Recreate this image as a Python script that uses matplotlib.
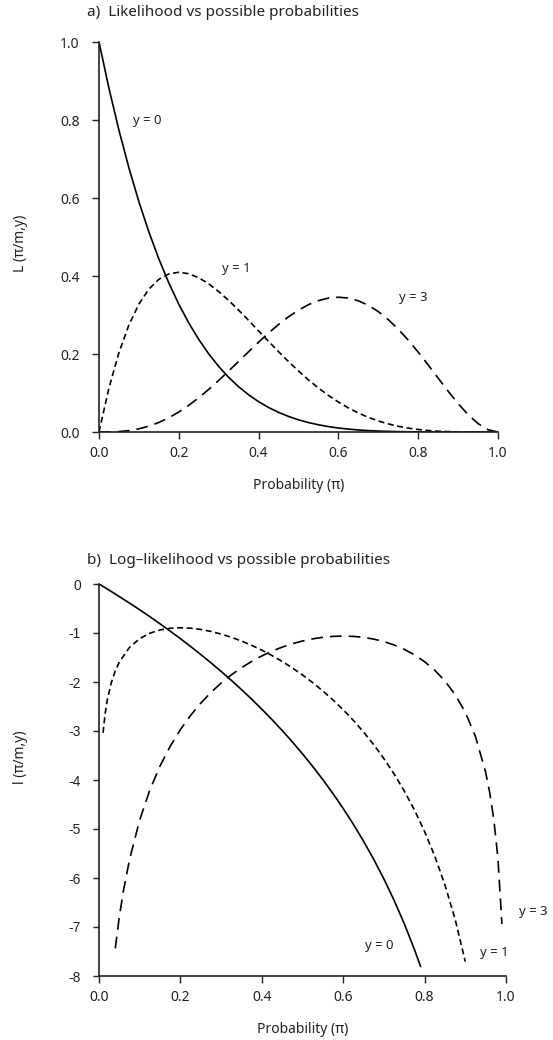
import matplotlib
matplotlib.use("Agg")
import matplotlib.pyplot as plt

plt.rcParams['font.family'] = ['Noto Sans', 'DejaVu Sans']
plt.rcParams['axes.unicode_minus'] = False
plt.rcParams['lines.scale_dashes'] = False

# ---------------- data ----------------
p_top = [0.0, 0.025, 0.05, 0.075, 0.1, 0.125, 0.15, 0.175, 0.2, 0.225, 0.25,
         0.275, 0.3, 0.325, 0.35, 0.375, 0.4, 0.425, 0.45, 0.475, 0.5,
         0.525, 0.55, 0.575, 0.6, 0.625, 0.65, 0.675, 0.7, 0.725, 0.75,
         0.775, 0.8, 0.825, 0.85, 0.875, 0.9, 0.925, 0.95, 0.975, 1.0]

lik_y0 = [1.0, 0.881096, 0.773781, 0.677187, 0.59049, 0.512909, 0.443705,
          0.382181, 0.32768, 0.279581, 0.237305, 0.200305, 0.16807, 0.140126,
          0.116029, 0.095367, 0.07776, 0.062855, 0.050328, 0.039884, 0.03125,
          0.024181, 0.018453, 0.013866, 0.01024, 0.007416, 0.005252, 0.003626,
          0.00243, 0.001573, 0.000977, 0.000577, 0.00032, 0.000164, 0.000076,
          0.000031, 0.00001, 0.000002, 0.0, 0.0, 0.0]

lik_y1 = [0.0, 0.112961, 0.203627, 0.274535, 0.32805, 0.366364, 0.391505,
          0.405344, 0.4096, 0.405844, 0.395508, 0.379888, 0.36015, 0.33734,
          0.312386, 0.286102, 0.2592, 0.23229, 0.205889, 0.180426, 0.15625,
          0.133631, 0.112767, 0.093797, 0.0768, 0.061798, 0.04877, 0.037655,
          0.02835, 0.020732, 0.014648, 0.009931, 0.0064, 0.003869, 0.002152,
          0.001068, 0.00045, 0.000146, 0.00003, 0.000002, 0.0]

lik_y3 = [0.0, 0.000149, 0.001128, 0.00361, 0.0081, 0.014954, 0.024384,
          0.036476, 0.0512, 0.068416, 0.087891, 0.109314, 0.1323, 0.156408,
          0.181147, 0.205994, 0.2304, 0.253807, 0.275653, 0.295393, 0.3125,
          0.326487, 0.336909, 0.343385, 0.3456, 0.343323, 0.336416, 0.324847,
          0.3087, 0.28819, 0.263672, 0.235651, 0.2048, 0.171964, 0.138178,
          0.104675, 0.0729, 0.044519, 0.021434, 0.005793, 0.0]

p_ll0 = [0.0, 0.025, 0.05, 0.075, 0.1, 0.125, 0.15, 0.175, 0.2, 0.225, 0.25,
         0.275, 0.3, 0.325, 0.35, 0.375, 0.4, 0.425, 0.45, 0.475, 0.5,
         0.525, 0.55, 0.575, 0.6, 0.625, 0.65, 0.675, 0.7, 0.725, 0.75,
         0.775, 0.79]
ll_y0 = [0.0, -0.12659, -0.25647, -0.38981, -0.5268, -0.66766, -0.81259,
         -0.96186, -1.11572, -1.27446, -1.43841, -1.60792, -1.78337, -1.96521,
         -2.15391, -2.35002, -2.55413, -2.76692, -2.98918, -3.22179, -3.46574,
         -3.7222, -3.99254, -4.27833, -4.58145, -4.90415, -5.24911, -5.61965,
         -6.01986, -6.45492, -6.93147, -7.45827, -7.80324]

p_ll1 = [0.01, 0.015, 0.02, 0.03, 0.04, 0.05, 0.075, 0.1, 0.125, 0.15, 0.175,
         0.2, 0.225, 0.25, 0.275, 0.3, 0.325, 0.35, 0.375, 0.4, 0.425, 0.45,
         0.475, 0.5, 0.525, 0.55, 0.575, 0.6, 0.625, 0.65, 0.675, 0.7, 0.725,
         0.75, 0.775, 0.8, 0.825, 0.85, 0.875, 0.9]
ll_y1 = [-3.03593, -2.65072, -2.3834, -2.01896, -1.77273, -1.59147, -1.29268,
         -1.11459, -1.00413, -0.93776, -0.90302, -0.89258, -0.90179, -0.92758,
         -0.96788, -1.02124, -1.08666, -1.16352, -1.25141, -1.35016, -1.45977,
         -1.58042, -1.71243, -1.8563, -2.01268, -2.18243, -2.36661, -2.56655,
         -2.78388, -3.02063, -3.27933, -3.56313, -3.87608, -4.22342, -4.61207,
         -5.05146, -5.55481, -6.14156, -6.84186, -7.70626]

p_ll3 = [0.04, 0.05, 0.06, 0.075, 0.1, 0.125, 0.15, 0.175, 0.2, 0.225, 0.25,
         0.275, 0.3, 0.325, 0.35, 0.375, 0.4, 0.425, 0.45, 0.475, 0.5, 0.525,
         0.55, 0.575, 0.6, 0.625, 0.65, 0.675, 0.7, 0.725, 0.75, 0.775, 0.8,
         0.825, 0.85, 0.875, 0.9, 0.925, 0.95, 0.96, 0.97, 0.98, 0.99]
ll_y3 = [-7.43569, -6.7872, -6.2614, -5.62414, -4.81589, -4.2028, -3.71381,
         -3.31107, -2.97202, -2.68216, -2.43166, -2.21354, -2.02268, -1.85529,
         -1.70845, -1.57991, -1.46794, -1.37118, -1.28861, -1.21945, -1.16315,
         -1.11937, -1.08794, -1.0689, -1.06248, -1.06909, -1.08941, -1.1244,
         -1.17539, -1.24414, -1.33305, -1.4454, -1.58572, -1.76047, -1.97921,
         -2.25689, -2.61867, -3.11184, -3.84276, -4.25763, -4.80191, -5.58207,
         -6.93791]

x_ticks = [0.0, 0.2, 0.4, 0.6, 0.8, 1.0]
x_ticklabels = ["0.0", "0.2", "0.4", "0.6", "0.8", "1.0"]
top_yticks = [0.0, 0.2, 0.4, 0.6, 0.8, 1.0]
top_yticklabels = ["0.0", "0.2", "0.4", "0.6", "0.8", "1.0"]
bot_yticks = [0, -1, -2, -3, -4, -5, -6, -7, -8]
bot_yticklabels = ["0", "-1", "-2", "-3", "-4", "-5", "-6", "-7", "-8"]

# ---------------- figure ----------------
fig = plt.figure(figsize=(5.53, 10.40), dpi=100)
ax1 = fig.add_axes([99/553, 1-432/1040, 399/553, 390/1040])
ax2 = fig.add_axes([99/553, 1-976/1040, 407/553, 392/1040])

LW = 1.2
short_dash = (0, (4.3, 2.6))
long_dash = (0, (8.5, 5.0))

ax1.plot(p_top, lik_y0, color='black', lw=LW, linestyle='-')
ax1.plot(p_top, lik_y1, color='black', lw=LW, linestyle=short_dash)
ax1.plot(p_top, lik_y3, color='black', lw=LW, linestyle=long_dash)

ax2.plot(p_ll0, ll_y0, color='black', lw=LW, linestyle='-')
ax2.plot(p_ll1, ll_y1, color='black', lw=LW, linestyle=short_dash)
ax2.plot(p_ll3, ll_y3, color='black', lw=LW, linestyle=long_dash)

for ax in (ax1, ax2):
    ax.spines['top'].set_visible(False)
    ax.spines['right'].set_visible(False)
    for s in ('left', 'bottom'):
        ax.spines[s].set_linewidth(1.2)
        ax.spines[s].set_color('#222222')
    ax.set_xlim(0, 1)
    ax.set_xticks(x_ticks)
    ax.set_xticklabels(x_ticklabels)
    ax.tick_params(axis='x', direction='out', length=5, width=1.0,
                   labelsize=10, pad=5, colors='#222222')
    ax.tick_params(axis='y', direction='out', length=5, width=1.0,
                   labelsize=10, pad=9, colors='#222222')
    ax.set_xlabel("Probability (π)", fontsize=10, labelpad=12, color='#222222')

ax1.set_ylim(0, 1)
ax1.set_yticks(top_yticks)
ax1.set_yticklabels(top_yticklabels)

ax2.set_ylim(-8, 0)
ax2.set_yticks(bot_yticks)
ax2.set_yticklabels(bot_yticklabels, family=['Liberation Sans'])
ax2.tick_params(axis='y', length=4)

# panel titles
fig.text(87/553, 1-13/1040, "a)  Likelihood vs possible probabilities",
         fontsize=11, ha='left', va='center', color='#222222')
fig.text(87/553, 1-560/1040, "b)  Log\u2013likelihood vs possible probabilities",
         fontsize=11, ha='left', va='center', color='#222222')

# y labels
fig.text(20/553, 1-243/1040, "L (π/m,y)", rotation=90, fontsize=10,
         ha='center', va='center', color='#222222')
fig.text(20/553, 1-757/1040, "l (π/m,y)", rotation=90, fontsize=10,
         ha='center', va='center', color='#222222')

# curve labels
ax1.text(0.085, 0.80, "y = 0", fontsize=9.5, ha='left', va='center', color='#222222')
ax1.text(0.308, 0.42, "y = 1", fontsize=9.5, ha='left', va='center', color='#222222')
ax1.text(0.752, 0.345, "y = 3", fontsize=9.5, ha='left', va='center', color='#222222')

ax2.text(0.654, -7.37, "y = 0", fontsize=9.5, ha='left', va='center', color='#222222', clip_on=False)
ax2.text(0.936, -7.53, "y = 1", fontsize=9.5, ha='left', va='center', color='#222222', clip_on=False)
ax2.text(1.032, -6.69, "y = 3", fontsize=9.5, ha='left', va='center', color='#222222', clip_on=False)

fig.savefig("out.png", dpi=100)
